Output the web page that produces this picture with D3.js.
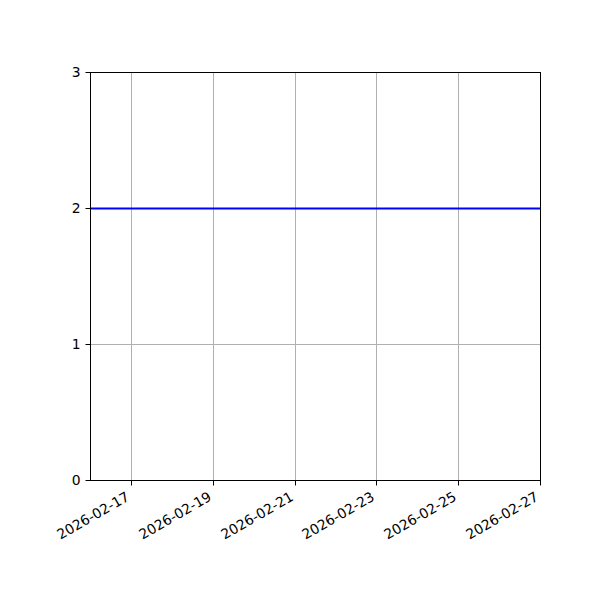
<!DOCTYPE html>
<html>
<head>
<meta charset="utf-8">
<script src="https://cdn.jsdelivr.net/npm/d3@7"></script>
<style>
  body { margin: 0; background: #fff; }
  text { font-family: "DejaVu Sans", sans-serif; }
</style>
</head>
<body>
<svg id="chart" width="600" height="600"></svg>
<script>
// data
var dates = ["2026-02-16", "2026-02-17", "2026-02-18", "2026-02-19", "2026-02-20", "2026-02-21",
             "2026-02-22", "2026-02-23", "2026-02-24", "2026-02-25", "2026-02-26", "2026-02-27"];
var values = [2, 2, 2, 2, 2, 2, 2, 2, 2, 2, 2, 2];
var xTicks = ["2026-02-17", "2026-02-19", "2026-02-21", "2026-02-23", "2026-02-25", "2026-02-27"];
var yTicks = [0, 1, 2, 3];

var parse = d3.utcParse("%Y-%m-%d");
var fmt = d3.utcFormat("%Y-%m-%d");

var margin = {top: 72, right: 60, bottom: 120, left: 90},
    width = 600 - margin.left - margin.right,
    height = 600 - margin.top - margin.bottom;

var svg = d3.select("#chart");
//half pixel offset so 1px lines come out crisp
var g = svg.append("g").attr("transform", "translate(" + (margin.left + 0.5) + "," + (margin.top + 0.5) + ")");

var xRange = d3.scaleUtc().range([0, width]).domain([parse(dates[0]), parse(dates[dates.length - 1])]);
var yRange = d3.scaleLinear().range([height, 0]).domain([0, 3]);

//grid lines
g.append("g").selectAll("line")
  .data(xTicks.map(parse))
  .enter().append("line")
  .attr("x1", function(d) { return Math.round(xRange(d)); })
  .attr("x2", function(d) { return Math.round(xRange(d)); })
  .attr("y1", 0).attr("y2", height)
  .attr("stroke", "#b0b0b0").attr("stroke-width", 1);
g.append("g").selectAll("line")
  .data(yTicks)
  .enter().append("line")
  .attr("x1", 0).attr("x2", width)
  .attr("y1", function(d) { return Math.round(yRange(d)); })
  .attr("y2", function(d) { return Math.round(yRange(d)); })
  .attr("stroke", "#b0b0b0").attr("stroke-width", 1);

//the line
var lineFunc = d3.line()
  .x(function(d, i) { return xRange(parse(dates[i])); })
  .y(function(d) { return yRange(d); });
g.append("path")
  .attr("d", lineFunc(values))
  .attr("fill", "none")
  .attr("stroke", "#0000ff")
  .attr("stroke-width", 2);

//frame
g.append("rect")
  .attr("width", width).attr("height", height)
  .attr("fill", "none").attr("stroke", "#000").attr("stroke-width", 1);

//x axis
var xAxis = d3.axisBottom(xRange)
  .tickValues(xTicks.map(parse))
  .tickFormat(fmt)
  .tickSize(5).tickPadding(5);
var xg = g.append("g").attr("transform", "translate(0," + height + ")").call(xAxis);
xg.select(".domain").remove();
xg.selectAll(".tick").attr("transform", function(d) { return "translate(" + Math.round(xRange(d)) + ",0)"; });
xg.selectAll(".tick line").attr("stroke", "#000").attr("stroke-width", 1);
xg.selectAll(".tick text")
  .attr("font-size", "13.9px")
  .attr("fill", "#000")
  .attr("text-anchor", "end")
  .attr("y", 0).attr("dy", 0)
  .attr("transform", "translate(-1,19) rotate(-30)");

//y axis
var yAxis = d3.axisLeft(yRange).tickValues(yTicks).tickFormat(d3.format("d"))
  .tickSize(5).tickPadding(5);
var yg = g.append("g").call(yAxis);
yg.select(".domain").remove();
yg.selectAll(".tick").attr("transform", function(d) { return "translate(0," + Math.round(yRange(d)) + ")"; });
yg.selectAll(".tick line").attr("stroke", "#000").attr("stroke-width", 1);
yg.selectAll(".tick text").attr("font-size", "13.9px").attr("fill", "#000");
</script>
</body>
</html>
